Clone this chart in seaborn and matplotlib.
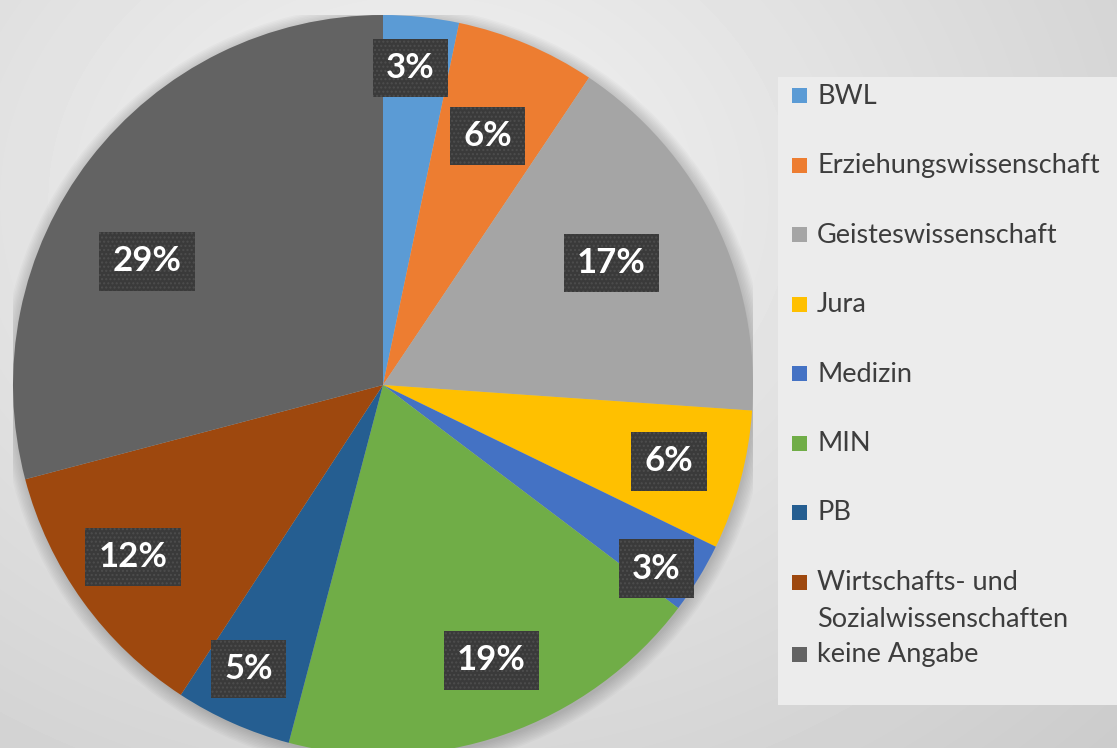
import numpy as np
import matplotlib.pyplot as plt
import seaborn as sns
from matplotlib.patches import Rectangle, Circle

# Daten
faecher = ["BWL", "Erziehungswissenschaft", "Geisteswissenschaft", "Jura", "Medizin",
           "MIN", "PB", "Wirtschafts- und\nSozialwissenschaften", "keine Angabe"]
anteile = [3.3, 6.1, 16.7, 6.1, 3.1, 18.8, 5.1, 11.7, 29.1]
farben = ["#5B9BD5", "#ED7D31", "#A5A5A5", "#FFC000", "#4472C4",
          "#70AD47", "#255E91", "#9E480E", "#636363"]

# label placement (fraction of radius, angle nudge in degrees)
lbl_r = [0.86, 0.73, 0.70, 0.80, 0.89, 0.80, 0.85, 0.82, 0.72]
lbl_da = [-1, 0, -2, 0, 2.4, -2.4, 1.4, 1.3, -10]

sns.set_theme(style="white")
plt.rcParams['font.family'] = ['Lato', 'DejaVu Sans']

W, H = 1117, 748
fig = plt.figure(figsize=(W / 100, H / 100), dpi=100)

# background gradient
bg = fig.add_axes([0, 0, 1, 1])
yy, xx = np.mgrid[0:H, 0:W]
d = np.sqrt(((xx - 420) / 800.0) ** 2 + ((yy - 200) / 650.0) ** 2)
img = np.clip(0.955 - 0.13 * d, 0, 1)
bg.imshow(img, cmap="gray", vmin=0, vmax=1, extent=[0, W, H, 0], aspect="auto", zorder=0)
bg.set_xlim(0, W)
bg.set_ylim(H, 0)
bg.axis("off")

# legend box
bg.add_patch(Rectangle((778, 77), W - 778, 628, facecolor="#ececec", edgecolor="none", zorder=1))
y = 96
for name, col in zip(faecher, farben):
    bg.add_patch(Rectangle((792, y - 8), 15, 15, facecolor=col, edgecolor="none", zorder=2))
    if "\n" in name:
        bg.text(817, y - 13, name, ha="left", va="top", fontsize=19.5, color="#3d3d3d",
                linespacing=1.62, zorder=3)
        y += 72
    else:
        bg.text(817, y, name, ha="left", va="center", fontsize=19.5, color="#3d3d3d", zorder=3)
        y += 69.5

# pie
ax = fig.add_axes([13 / W, (H - 755) / H, 740 / W, 740 / H])
for k in range(10):
    ax.add_patch(Circle((0.004, -0.008), 1 + 0.004 * k, facecolor="black",
                        alpha=0.018, lw=0, zorder=0))
wedges, _ = ax.pie(anteile, colors=farben, startangle=90, counterclock=False, radius=1,
                   wedgeprops=dict(linewidth=0, zorder=2))
for w, val, r, da in zip(wedges, anteile, lbl_r, lbl_da):
    mid = np.deg2rad((w.theta1 + w.theta2) / 2 - da)
    ax.text(r * np.cos(mid), r * np.sin(mid), "%.0f%%" % val, ha="center", va="center",
            fontsize=25, fontweight="bold", color="white", zorder=5,
            bbox=dict(boxstyle="square,pad=0.38", facecolor="#3a3a3a",
                      edgecolor="#4d4d4d", linewidth=0, hatch="...."))
ax.set_xlim(-1, 1)
ax.set_ylim(-1, 1)
ax.set_aspect("equal")
ax.axis("off")

fig.savefig("out.png", dpi=100)
